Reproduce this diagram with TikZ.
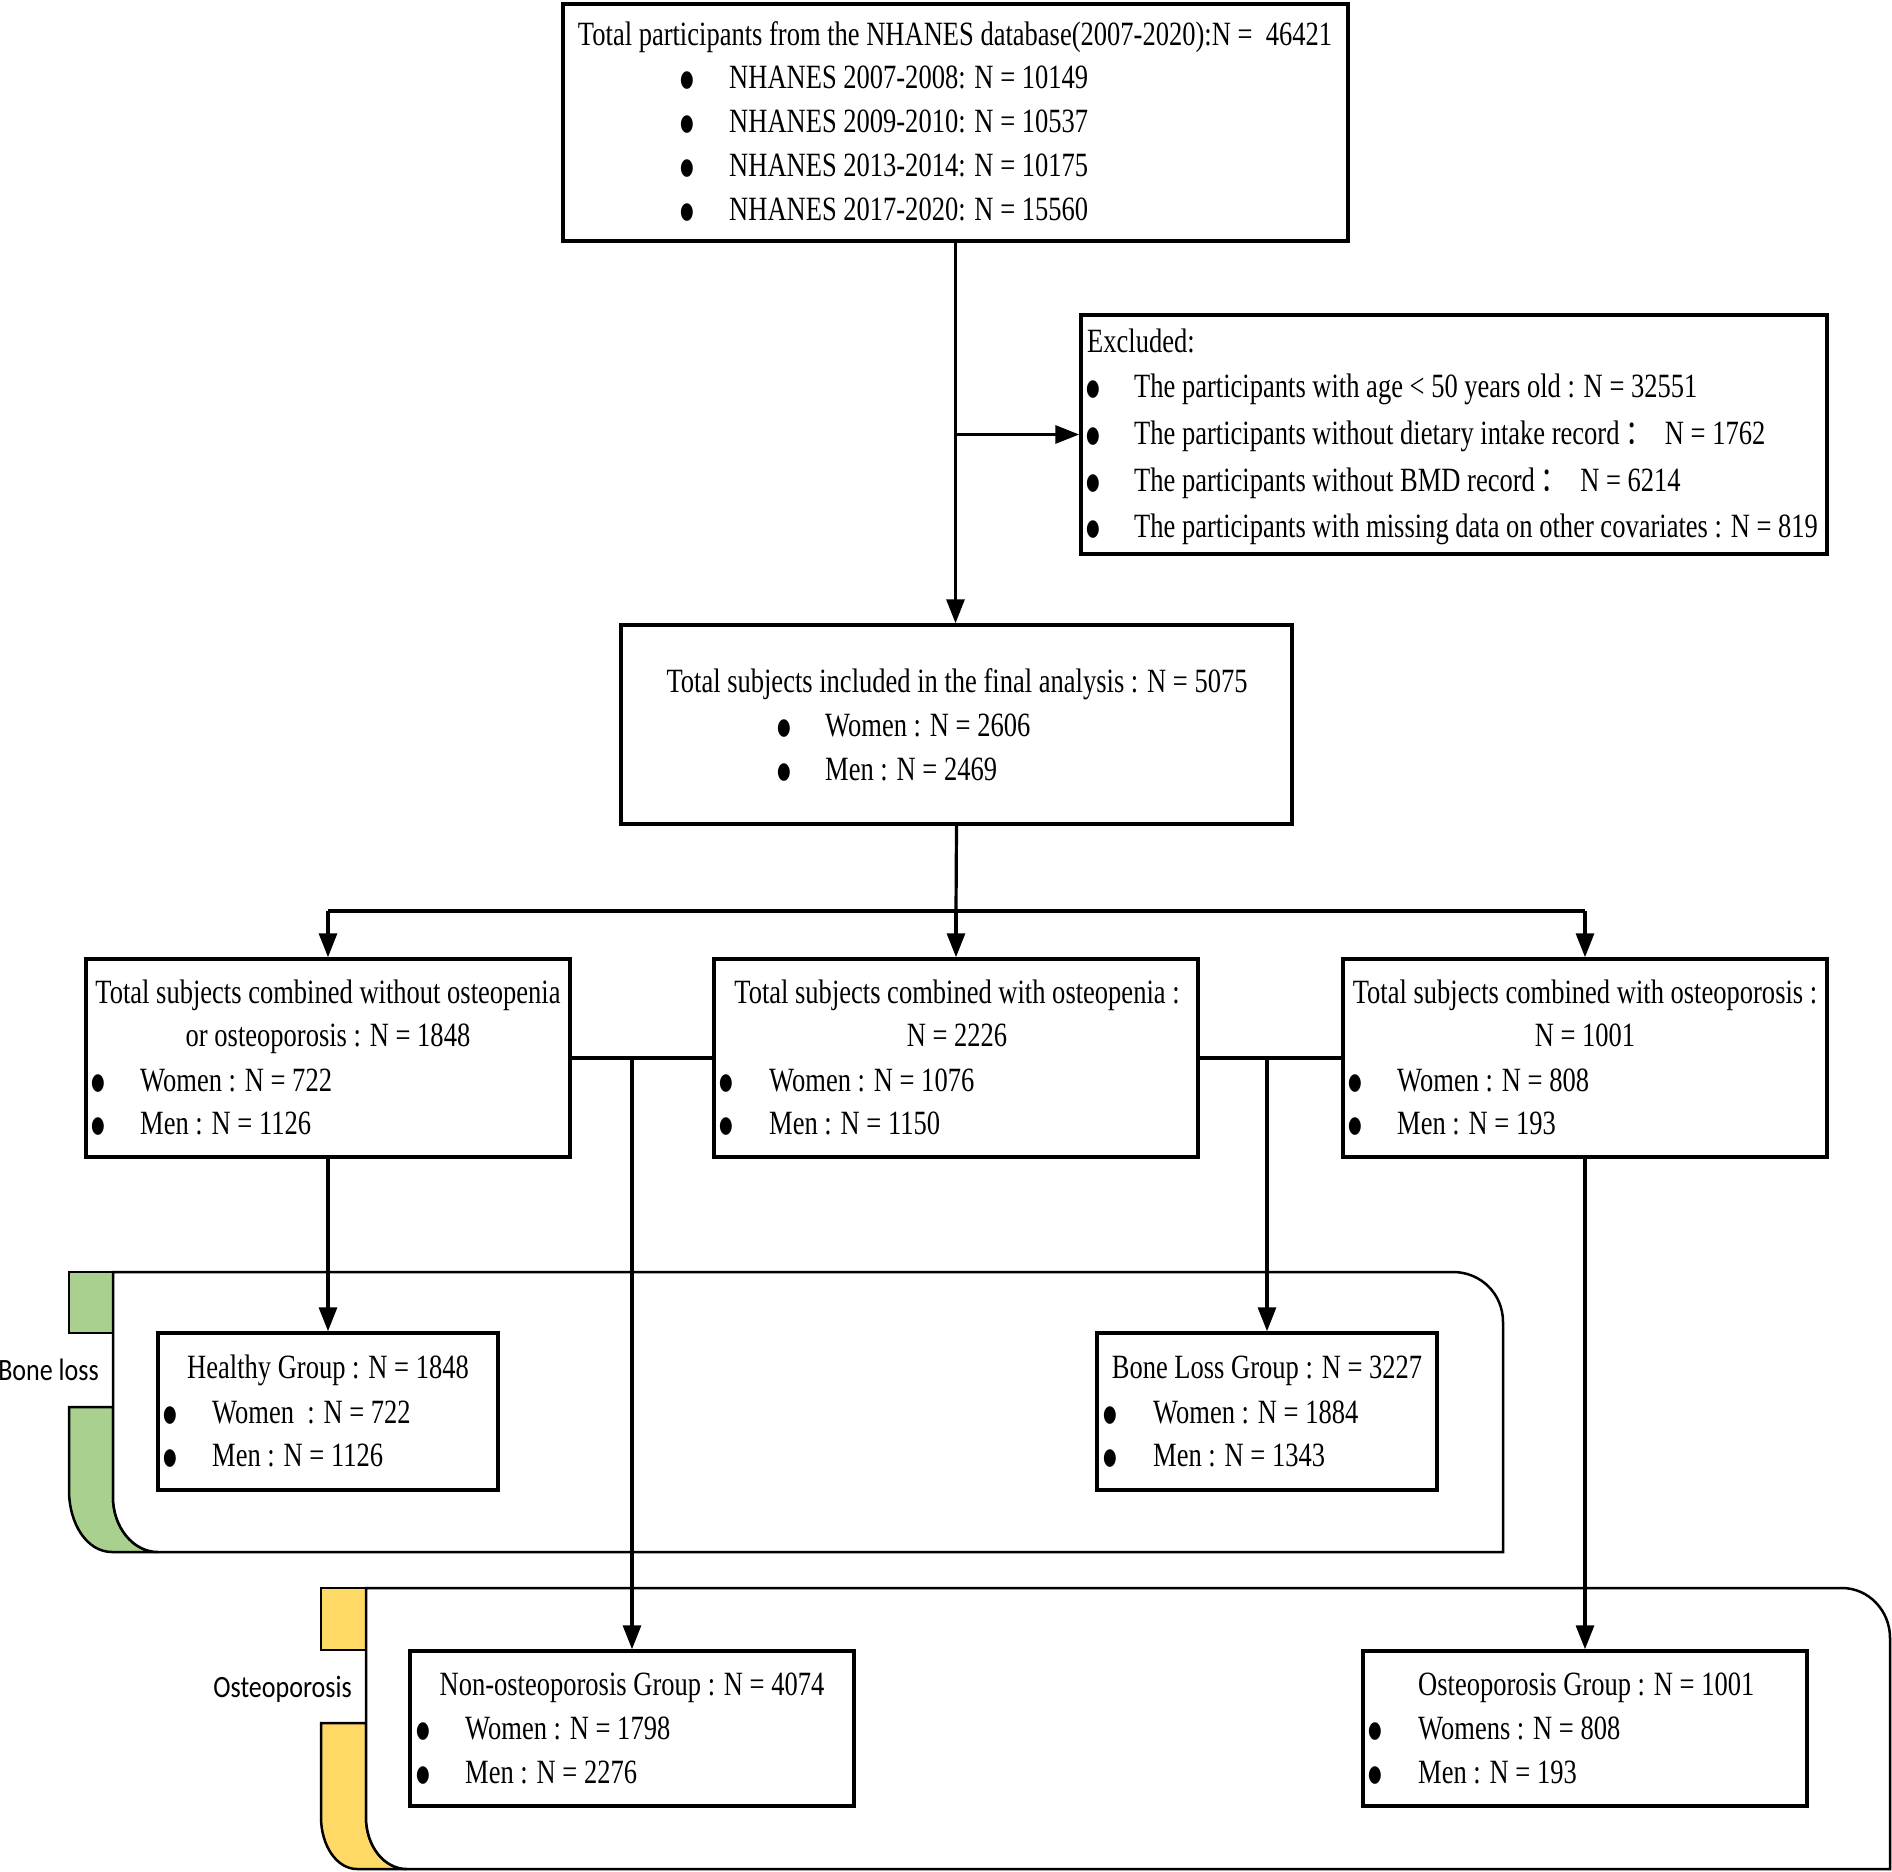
\documentclass[tikz,border=0pt]{standalone}
\usepackage{fontspec}
\setmainfont{Liberation Serif}[FakeStretch=0.78]
\newfontfamily\labfont{Carlito}[FakeStretch=0.84]
\newfontfamily\cjkfont{Noto Sans CJK SC}[FakeStretch=0.78]
\newfontfamily\bulfont{DejaVu Sans}[FakeStretch=0.68]
\usetikzlibrary{arrows.meta}
\definecolor{bonegreen}{RGB}{169,208,142}
\definecolor{osteoyellow}{RGB}{255,217,102}
\tikzset{
 box/.style={draw, line width=3.5pt, fill=white, inner sep=0pt},
 conn/.style={line width=3.2pt},
 arr/.style={conn, -{Triangle[length=24pt,width=18pt]}},
 txt/.style={inner sep=0pt, font=\fontsize{34}{44}\selectfont},
 region/.style={draw, line width=2.5pt, fill=white},
 tabshape/.style={draw, line width=2.5pt},
 lab/.style={inner sep=0pt, font=\labfont\fontsize{31}{36}\selectfont},
}
\newcommand\bulg{\raisebox{2pt}{\bulfont\fontsize{23}{23}\selectfont ●}}
\newcommand\bline[5]{%
 \node[txt, anchor=base] (#1b) at (#2,#4) {\bulg};
 \node[txt, anchor=base west] (#1) at (#3,#4) {#5};}
\begin{document}
\begin{tikzpicture}[x=1pt, y=-1pt]
\useasboundingbox (0,0) rectangle (1892,1871);
% ---- Bone loss region
\draw[tabshape, fill=bonegreen] (69,1272) rectangle (113,1333);
\draw[tabshape, fill=bonegreen] (69,1407) -- (113,1407) -- (113,1497) .. controls (113,1527) and (133,1552) .. (158,1552) -- (112,1552) .. controls (87,1552) and (69,1524) .. (69,1490) -- cycle;
\draw[region] (113,1272) -- (1453,1272) .. controls (1481,1272) and (1503,1294) .. (1503,1322) -- (1503,1552) -- (158,1552) .. controls (133,1552) and (113,1527) .. (113,1497) -- cycle;
\node[lab, anchor=base east] (boneloss) at (99,1380) {Bone loss};
% ---- Osteoporosis region
\draw[tabshape, fill=osteoyellow] (321,1588) rectangle (366,1650);
\draw[tabshape, fill=osteoyellow] (321,1723) -- (366,1723) -- (366,1817) .. controls (366,1846) and (384,1869) .. (407,1869) -- (357,1869) .. controls (337,1869) and (321,1846) .. (321,1817) -- cycle;
\draw[region] (366,1588) -- (1842,1588) .. controls (1868,1588) and (1890,1610) .. (1890,1638) -- (1890,1869) -- (407,1869) .. controls (384,1869) and (366,1846) .. (366,1817) -- cycle;
\node[lab, anchor=base east] (osteolab) at (352,1697) {Osteoporosis};
% ---- boxes
\node[box, minimum width=785pt, minimum height=237pt] (top) at (955.5,122.5) {};
\node[box, minimum width=746pt, minimum height=239pt] (excl) at (1454,434.5) {};
\node[box, minimum width=671pt, minimum height=199pt] (final) at (956.5,724.5) {};
\node[box, minimum width=484pt, minimum height=198pt] (left) at (328,1058) {};
\node[box, minimum width=484pt, minimum height=198pt] (mid) at (956,1058) {};
\node[box, minimum width=484pt, minimum height=198pt] (right) at (1585,1058) {};
\node[box, minimum width=340pt, minimum height=157pt] (healthy) at (328,1411.5) {};
\node[box, minimum width=340pt, minimum height=157pt] (bloss) at (1267,1411.5) {};
\node[box, minimum width=444pt, minimum height=155pt] (nonost) at (632,1728.5) {};
\node[box, minimum width=444pt, minimum height=155pt] (ostg) at (1585,1728.5) {};
% ---- texts
\node[txt, anchor=base] (t0) at (955,45) {Total participants from the NHANES database(2007-2020):N =~~46421};
\bline{t1}{687}{729}{88}{NHANES 2007-2008: N = 10149}
\bline{t2}{687}{729}{132}{NHANES 2009-2010: N = 10537}
\bline{t3}{687}{729}{176}{NHANES 2013-2014: N = 10175}
\bline{t4}{687}{729}{220}{NHANES 2017-2020: N = 15560}
\node[txt, anchor=base west] (e0) at (1087,352) {Excluded:};
\bline{e1}{1093}{1134}{397}{The participants with age < 50 years old : N = 32551}
\bline{e2}{1093}{1134}{444}{The participants without dietary intake record\,{\cjkfont ：}~~N = 1762}
\bline{e3}{1093}{1134}{491}{The participants without BMD record\,{\cjkfont ：}~~N = 6214}
\bline{e4}{1093}{1134}{537}{The participants with missing data on other covariates : N = 819}
\node[txt, anchor=base] (f0) at (957,692) {Total subjects included in the final analysis : N = 5075};
\bline{f1}{784}{825}{736}{Women : N = 2606}
\bline{f2}{784}{825}{780}{Men : N = 2469}
\node[txt, anchor=base] (l0) at (328,1003) {Total subjects combined without osteopenia};
\node[txt, anchor=base] (l1) at (328,1046) {or osteoporosis : N = 1848};
\bline{l2}{98}{140}{1091}{Women : N = 722}
\bline{l3}{98}{140}{1134}{Men : N = 1126}
\node[txt, anchor=base] (m0) at (957,1003) {Total subjects combined with osteopenia :};
\node[txt, anchor=base] (m1) at (957,1046) {N = 2226};
\bline{m2}{726}{769}{1091}{Women : N = 1076}
\bline{m3}{726}{769}{1134}{Men : N = 1150}
\node[txt, anchor=base] (r0) at (1585,1003) {Total subjects combined with osteoporosis :};
\node[txt, anchor=base] (r1) at (1585,1046) {N = 1001};
\bline{r2}{1355}{1397}{1091}{Women : N = 808}
\bline{r3}{1355}{1397}{1134}{Men : N = 193}
\node[txt, anchor=base] (h0) at (328,1378) {Healthy Group : N = 1848};
\bline{h1}{170}{212}{1423}{Women~~: N = 722}
\bline{h2}{170}{212}{1466}{Men : N = 1126}
\node[txt, anchor=base] (b0) at (1267,1378) {Bone Loss Group : N = 3227};
\bline{b1}{1110}{1153}{1423}{Women : N = 1884}
\bline{b2}{1110}{1153}{1466}{Men : N = 1343}
\node[txt, anchor=base] (n0) at (632,1695) {Non-osteoporosis Group : N = 4074};
\bline{n1}{423}{465}{1739}{Women : N = 1798}
\bline{n2}{423}{465}{1783}{Men : N = 2276}
\node[txt, anchor=base west] (o0) at (1418,1695) {Osteoporosis Group : N = 1001};
\bline{o1}{1375}{1418}{1739}{Womens : N = 808}
\bline{o2}{1375}{1418}{1783}{Men : N = 193}
% ---- connectors
\coordinate (busc) at (956,911);
\draw[arr] (top.south) -- (top.south |- final.north);
\draw[arr] (top.south |- excl.west) -- (excl.west);
\draw[conn] (final.south) -- (busc);
\draw[conn] (left.north |- busc) -- (right.north |- busc);
\draw[arr] (left.north |- busc) -- (left.north);
\draw[arr] (mid.north |- busc) -- (mid.north);
\draw[arr] (right.north |- busc) -- (right.north);
\draw[conn] (left.east) -- (mid.west);
\draw[arr] (nonost.north |- left.east) -- (nonost.north);
\draw[conn] (mid.east) -- (right.west);
\draw[arr] (bloss.north |- mid.east) -- (bloss.north);
\draw[arr] (left.south) -- (healthy.north);
\draw[arr] (right.south) -- (ostg.north);
\end{tikzpicture}
\end{document}
